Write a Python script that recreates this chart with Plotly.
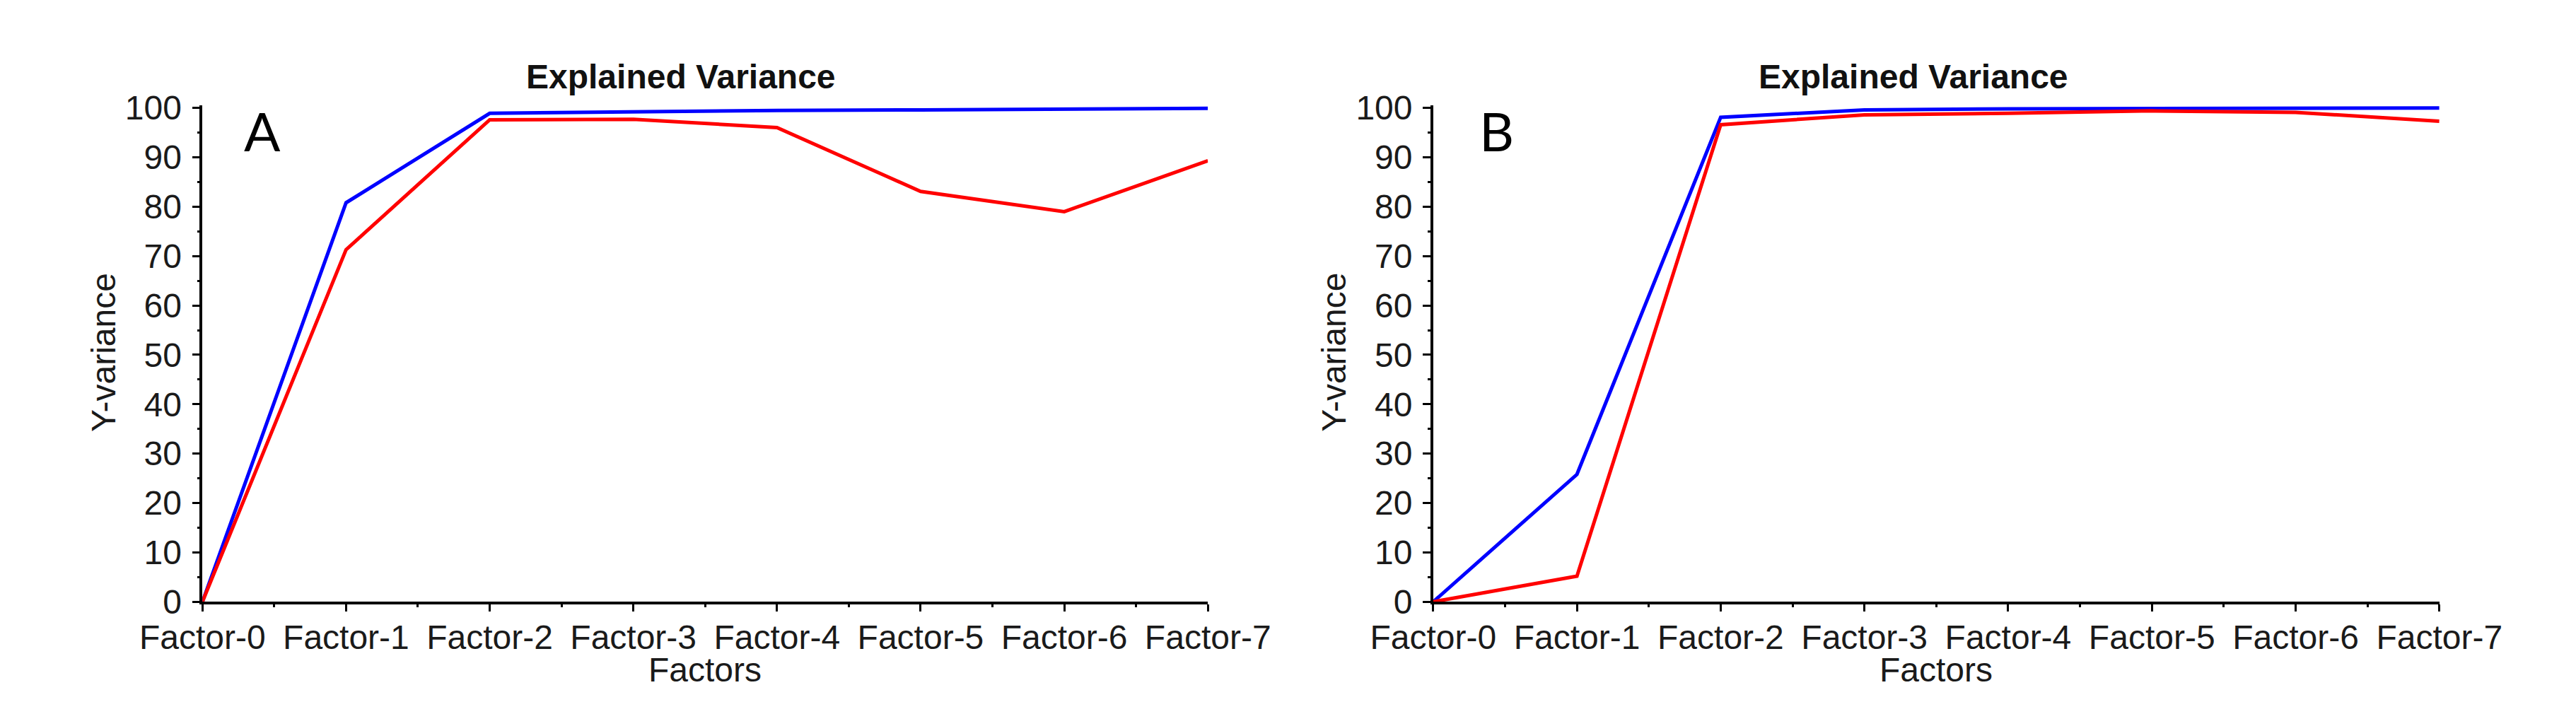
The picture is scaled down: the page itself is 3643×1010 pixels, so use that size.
import plotly.graph_objects as go

factors = ["Factor-0", "Factor-1", "Factor-2", "Factor-3", "Factor-4", "Factor-5", "Factor-6", "Factor-7"]
a_blue = [0, 80.8, 98.9, 99.2, 99.5, 99.6, 99.7, 99.9]
a_red = [0, 71.3, 97.6, 97.7, 96.0, 83.1, 79.0, 89.3]
b_blue = [0, 25.8, 98.1, 99.6, 99.8, 99.9, 99.9, 100.0]
b_red = [0, 5.2, 96.6, 98.6, 98.9, 99.4, 99.1, 97.3]
y_ticks = [0, 10, 20, 30, 40, 50, 60, 70, 80, 90, 100]
panel_labels = ["A", "B"]
title_text = "Explained Variance"
x_title = "Factors"
y_title = "Y-variance"

W, H = 3643, 1010
FONT = "Liberation Sans, Arial, sans-serif"
xpos = list(range(len(factors)))

fig = go.Figure()
fig.add_trace(go.Scatter(x=xpos, y=a_blue, mode="lines", line=dict(color="#0000FF", width=5), xaxis="x", yaxis="y", showlegend=False))
fig.add_trace(go.Scatter(x=xpos, y=a_red, mode="lines", line=dict(color="#FF0000", width=5), xaxis="x", yaxis="y", showlegend=False))
fig.add_trace(go.Scatter(x=xpos, y=b_blue, mode="lines", line=dict(color="#0000FF", width=5), xaxis="x2", yaxis="y2", showlegend=False))
fig.add_trace(go.Scatter(x=xpos, y=b_red, mode="lines", line=dict(color="#FF0000", width=5), xaxis="x2", yaxis="y2", showlegend=False))

ydom = [(H - 863) / H, (H - 124.3) / H]
xdomA = [199 / W, 1694 / W]
xdomB = [2029 / W, 3525 / W]

def xax(dom, anchor):
    return dict(domain=dom, anchor=anchor, range=[0, 7], tickmode="array", tickvals=xpos, ticktext=factors,
                showline=True, linecolor="black", linewidth=3.5, ticks="outside", ticklen=10, tickwidth=3,
                tickcolor="black", showgrid=False, zeroline=False, ticklabelstandoff=-5,
                tickfont=dict(family=FONT, size=48, color="#1a1a1a"),
                minor=dict(dtick=0.5, tick0=0, ticks="outside", ticklen=4, tickwidth=3, tickcolor="black", showgrid=False))

def yax(anchor):
    return dict(domain=ydom, anchor=anchor, range=[0, 100.5], tickmode="array", tickvals=y_ticks,
                showline=True, linecolor="black", linewidth=3.5, ticks="outside", ticklen=11, tickwidth=3,
                tickcolor="black", showgrid=False, zeroline=False, ticklabelstandoff=5,
                tickfont=dict(family=FONT, size=48, color="#1a1a1a"),
                minor=dict(dtick=5, tick0=0, ticks="outside", ticklen=4, tickwidth=3, tickcolor="black", showgrid=False))

annotations = []
for dom, xc_title, xc_y, lab, lab_x in [(xdomA, 911, 52, panel_labels[0], 288), (xdomB, 2743, 1882, panel_labels[1], 2123)]:
    annotations.append(dict(text="<b>" + title_text + "</b>", x=xc_title / W, y=1 - 82 / H, xref="paper", yref="paper",
                            xanchor="center", yanchor="middle", showarrow=False,
                            font=dict(family=FONT, size=48, color="#111111")))
    annotations.append(dict(text=x_title, x=(dom[0] + dom[1]) / 2, y=1 - 964 / H, xref="paper", yref="paper",
                            xanchor="center", yanchor="middle", showarrow=False,
                            font=dict(family=FONT, size=48, color="#1a1a1a")))
    annotations.append(dict(text=y_title, x=xc_y / W, y=1 - 492 / H, xref="paper", yref="paper",
                            xanchor="center", yanchor="middle", showarrow=False, textangle=-90,
                            font=dict(family=FONT, size=48, color="#1a1a1a")))
    annotations.append(dict(text=lab, x=lab_x / W, y=1 - 161 / H, xref="paper", yref="paper",
                            xanchor="center", yanchor="middle", showarrow=False,
                            font=dict(family="Lato, Open Sans, sans-serif", size=76, color="#000000")))

fig.update_layout(
    width=W, height=H,
    margin=dict(l=0, r=0, t=0, b=0),
    paper_bgcolor="white", plot_bgcolor="white",
    xaxis=xax(xdomA, "y"), yaxis=yax("x"),
    xaxis2=xax(xdomB, "y2"), yaxis2=yax("x2"),
    annotations=annotations,
)

fig.write_html("out.html")
